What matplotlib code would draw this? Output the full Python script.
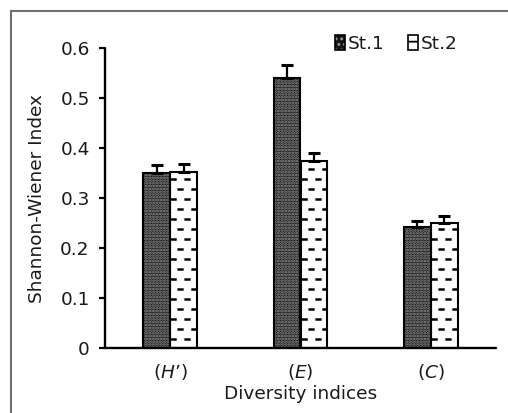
import numpy as np
import matplotlib
matplotlib.use("Agg")
import matplotlib.pyplot as plt
from matplotlib.patches import Patch
from matplotlib.lines import Line2D
from matplotlib.legend_handler import HandlerTuple

categories = [r"($\mathit{H}$’)", r"($\mathit{E}$)", r"($\mathit{C}$)"]
series_names = ["St.1", "St.2"]
st1 = [0.35, 0.54, 0.243]
st2 = [0.352, 0.374, 0.25]
err1 = [0.016, 0.027, 0.012]
err2 = [0.016, 0.016, 0.015]
yticks = [0, 0.1, 0.2, 0.3, 0.4, 0.5, 0.6]
ytick_labels = ["0", "0.1", "0.2", "0.3", "0.4", "0.5", "0.6"]

plt.rcParams["font.family"] = ["DejaVu Sans"]
plt.rcParams["font.size"] = 13.3
plt.rcParams["hatch.linewidth"] = 1.3
plt.rcParams["lines.scale_dashes"] = False

fig = plt.figure(figsize=(5.08, 4.13), dpi=100)
ax = fig.add_axes([105/508, 1-348.3/413, (496-105)/508, (348.3-48)/413])

x = np.arange(len(categories))
w = 0.205
x1 = x - w/2
x2 = x + w/2

# St.1: dark with light dots
b1 = ax.bar(x1, st1, w, color="#141414", edgecolor="#9a9a9a", hatch="......", linewidth=0, zorder=2)
ax.bar(x1, st1, w, fill=False, edgecolor="black", linewidth=1.5, zorder=4)

# St.2: white with staggered short dashes
b2 = ax.bar(x2, st2, w, color="white", edgecolor="none", linewidth=0, zorder=2)
for rect, h in zip(b2.patches, st2):
    left = rect.get_x()
    right = left + rect.get_width()
    k = 0
    yy = 0.018
    while yy < h - 0.012:
        off = 0 if k % 2 == 0 else 5.0
        ln, = ax.plot([left, right], [yy, yy], color="black", lw=1.8,
                      linestyle=(off, (4.5, 5.5)), solid_capstyle="butt",
                      dash_capstyle="butt", zorder=3)
        ln.set_clip_path(rect)
        yy += 0.02
        k += 1
ax.bar(x2, st2, w, fill=False, edgecolor="black", linewidth=1.5, zorder=4)

# error bars (upward)
ax.errorbar(x1, st1, yerr=[np.zeros(len(err1)), err1], fmt="none", ecolor="black",
            elinewidth=1.6, capsize=4, capthick=2.2, zorder=5)
ax.errorbar(x2, st2, yerr=[np.zeros(len(err2)), err2], fmt="none", ecolor="black",
            elinewidth=1.6, capsize=4, capthick=2.2, zorder=5)

ax.set_xlim(-0.5, 2.5)
ax.set_ylim(0, 0.6)
ax.set_yticks(yticks)
ax.set_yticklabels(ytick_labels)
ax.set_xticks(x)
ax.set_xticklabels(categories)
ax.tick_params(axis="x", length=0, pad=10, colors="#1a1a1a")
ax.tick_params(axis="y", length=4.5, width=1.6, direction="out", pad=6.5, colors="#1a1a1a")
for s in ["top", "right"]:
    ax.spines[s].set_visible(False)
for s in ["left", "bottom"]:
    ax.spines[s].set_linewidth(1.7)
    ax.spines[s].set_color("black")
    ax.spines[s].set_capstyle("round")
ax.tick_params(axis="y", color="black")
ax.set_xlabel("Diversity indices", labelpad=2, color="#1a1a1a")
ax.set_ylabel("Shannon-Wiener Index", labelpad=10, color="#1a1a1a")

# legend
h1a = Patch(facecolor="#141414", edgecolor="#9a9a9a", hatch="...", linewidth=0)
h1b = Patch(fill=False, edgecolor="black", linewidth=1.2)
h2a = Patch(facecolor="white", edgecolor="black", hatch="-", linewidth=0)
h2b = Patch(fill=False, edgecolor="black", linewidth=1.2)
fig.legend([(h1a, h1b), (h2a, h2b)], series_names,
           handler_map={tuple: HandlerTuple(ndivide=1, pad=0)},
           loc="center left", bbox_to_anchor=(335/508, 1-44/413),
           frameon=False, ncol=2, handlelength=0.55, handleheight=0.85,
           handletextpad=0.15, columnspacing=1.25, borderpad=0, borderaxespad=0,
           labelcolor="#1a1a1a")

# outer frame lines
fig.add_artist(Line2D([11/508, 11/508], [0, 1-11/413], color="#707070", lw=1.5,
                      transform=fig.transFigure))
fig.add_artist(Line2D([11/508, 1], [1-11/413, 1-11/413], color="#707070", lw=1.5,
                      transform=fig.transFigure))

fig.savefig("out.png", dpi=100)
